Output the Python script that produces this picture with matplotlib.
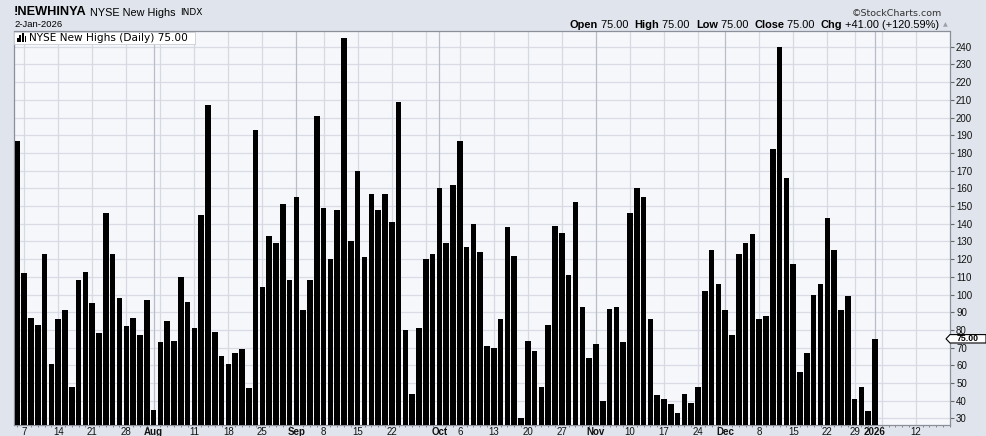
import numpy as np
import matplotlib.pyplot as plt
from matplotlib.patches import Rectangle, Polygon

# daily NYSE new highs, 3-Jul-2025 .. 2-Jan-2026 (trading days)
values = [187, 112, 87, 83, 123, 61, 86, 91, 48, 108,
          113, 95, 78, 146, 123, 98, 82, 87, 77, 97,
          35, 73, 85, 74, 110, 96, 81, 145, 207, 79,
          65, 61, 67, 69, 47, 193, 104, 133, 129, 151,
          108, 155, 91, 108, 201, 149, 120, 148, 245, 130,
          170, 121, 157, 148, 157, 141, 209, 80, 44, 81,
          120, 123, 160, 129, 162, 187, 127, 140, 124, 71,
          70, 86, 138, 122, 30, 74, 68, 48, 83, 139,
          135, 111, 152, 93, 64, 72, 40, 92, 93, 73,
          146, 160, 155, 86, 43, 41, 38, 33, 44, 39,
          48, 102, 125, 106, 91, 77, 123, 129, 134, 86,
          88, 182, 240, 166, 117, 56, 67, 100, 106, 143,
          125, 91, 99, 41, 48, 34, 75]

tick_pos = [1, 6, 11, 16, 20, 26, 31, 36, 41, 45, 50, 55, 62, 65, 70, 75,
            80, 85, 90, 95, 100, 104, 109, 114, 119, 123, 126, 132]
tick_labels = ['7', '14', '21', '28', 'Aug', '11', '18', '25', 'Sep', '8', '15',
               '22', 'Oct', '6', '13', '20', '27', 'Nov', '10', '17', '24', 'Dec',
               '8', '15', '22', '29', '2026', '12']
week_lines = [1, 6, 11, 16, 21, 26, 31, 36, 45, 50, 55, 60, 65, 70, 75, 80,
              90, 95, 100, 109, 114, 119, 123, 127, 132]
month_lines = [20, 41, 62, 85, 104, 126]
y_ticks = list(range(30, 250, 10))

W, H = 987, 436
bg = '#e0e4ec'
fig = plt.figure(figsize=(W / 100, H / 100), dpi=100, facecolor=bg)
ax = fig.add_axes([14 / W, 1 - 425 / H, (950.5 - 14) / W, (425 - 31.5) / H])
ax.set_facecolor('#f5f7fb')

x = np.arange(len(values))
ax.bar(x, values, width=0.82, color='black', zorder=3)

ax.set_xlim(-0.5, 137.1)
ax.set_ylim(26.3, 248.6)

for v in y_ticks:
    ax.axhline(v, color='#d9dce4', lw=0.9, zorder=1)
for p in week_lines:
    ax.axvline(p, color='#d6d9e1', lw=0.9, zorder=1)
for p in month_lines:
    ax.axvline(p, color='#b9bdc7', lw=0.9, zorder=1)

ax.yaxis.tick_right()
ax.set_yticks(y_ticks)
ax.set_yticklabels([str(v) for v in y_ticks], fontsize=7, family='Liberation Sans')
ax.tick_params(axis='y', length=3, pad=1, color='#666666', labelcolor='#111111')

ax.set_xticks(tick_pos)
ax.set_xticklabels(tick_labels, fontsize=7, family='Liberation Sans')
for t in ax.get_xticklabels():
    if not t.get_text().isdigit() or t.get_text() == '2026':
        t.set_fontweight('bold')
ax.tick_params(axis='x', length=0, pad=1.5, labelcolor='#111111')
ax.set_xticks(np.arange(0, 138), minor=True)
ax.tick_params(axis='x', which='minor', length=1.5, color='#777777')

for s in ax.spines.values():
    s.set_color('#8a8f99')
    s.set_linewidth(0.9)

# header
fig.text(14 / W, 1 - 12 / H, '!NEWHINYA', fontsize=9.2, fontweight='bold',
         family='Liberation Sans', va='center')
fig.text(90 / W, 1 - 12.5 / H, 'NYSE New Highs', fontsize=7.8, family='Liberation Sans', va='center')
fig.text(180 / W, 1 - 12.5 / H, 'INDX', fontsize=6.5, family='DejaVu Sans', va='center')
fig.text(14 / W, 1 - 24.5 / H, '2-Jan-2026', fontsize=6.8, family='Liberation Sans', va='center')
fig.text(942 / W, 1 - 13 / H, '\u00a9StockCharts.com', fontsize=6.8, family='DejaVu Sans',
         color='#333333', ha='right', va='center')

renderer = fig.canvas.get_renderer()
parts = [('Open', True), (' 75.00  ', False), ('High', True), (' 75.00  ', False),
         ('Low', True), (' 75.00  ', False), ('Close', True), (' 75.00  ', False),
         ('Chg', True), (' +41.00 (+120.59%)', False)]
xpos = 570
for txt, bold in parts:
    t = fig.text(xpos / W, 1 - 25 / H, txt, fontsize=7.9, family='Liberation Sans',
                 fontweight='bold' if bold else 'normal', va='center')
    xpos = t.get_window_extent(renderer).x1
fig.text((xpos + 3) / W, 1 - 25 / H, '\u25b2', fontsize=4.5, color='#9aa0aa', va='center')

# legend box
fig.patches.append(Rectangle((14 / W, 1 - 44 / H), 181 / W, 12 / H, transform=fig.transFigure,
                             facecolor='white', edgecolor='#c8ccd4', lw=0.6, zorder=5))
for i, hh in enumerate([4, 7, 9, 6]):
    fig.patches.append(Rectangle(((17 + i * 2.5) / W, 1 - 42 / H), 1.8 / W, hh / H,
                                 transform=fig.transFigure, facecolor='black', zorder=6))
fig.text(29 / W, 1 - 38 / H, 'NYSE New Highs (Daily) 75.00', fontsize=7.6,
         family='DejaVu Sans', va='center', zorder=7)

# last value marker on right axis
yv = ax.transData.transform((0, values[-1]))[1] / 100 / (H / 100)
pts = [(946 / W, yv), (950 / W, yv + 4.2 / H), (986 / W, yv + 4.2 / H),
       (986 / W, yv - 4.2 / H), (950 / W, yv - 4.2 / H)]
fig.patches.append(Polygon(pts, closed=True, transform=fig.transFigure, facecolor='white',
                           edgecolor='black', lw=0.8, zorder=8))
fig.text(968 / W, yv, '75.00', fontsize=6.3, fontweight='bold', family='Liberation Sans',
         ha='center', va='center', zorder=9)

fig.savefig('out.png', dpi=100, facecolor=bg)
